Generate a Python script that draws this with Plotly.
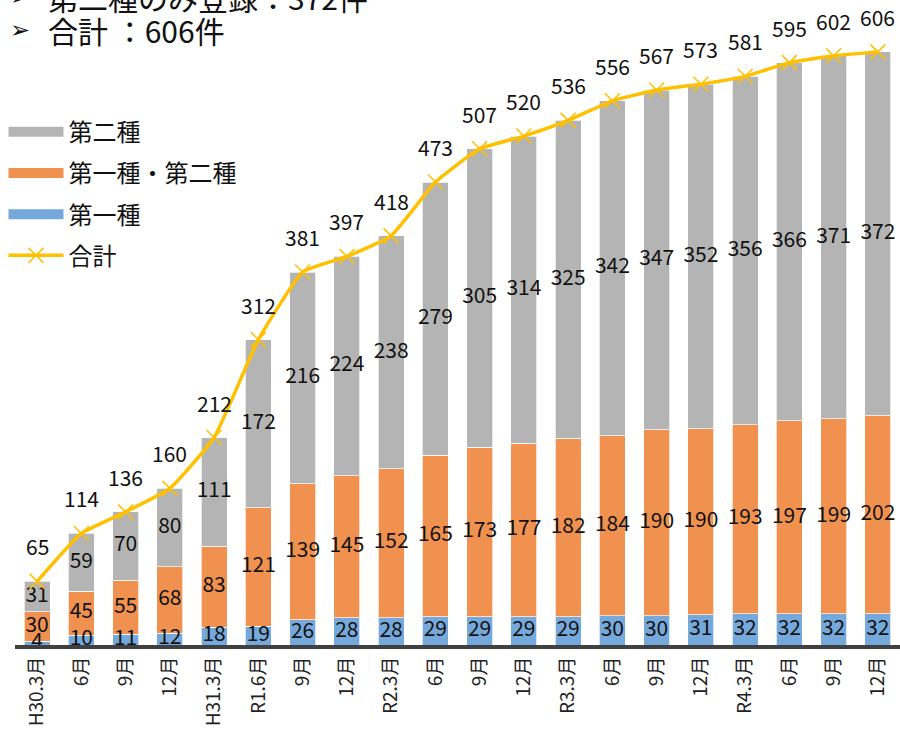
import plotly.graph_objects as go

categories = ["H30.3月", "6月", "9月", "12月", "H31.3月", "R1.6月", "9月", "12月", "R2.3月", "6月",
              "9月", "12月", "R3.3月", "6月", "9月", "12月", "R4.3月", "6月", "9月", "12月"]
type1 = [4, 10, 11, 12, 18, 19, 26, 28, 28, 29, 29, 29, 29, 30, 30, 31, 32, 32, 32, 32]
type12 = [30, 45, 55, 68, 83, 121, 139, 145, 152, 165, 173, 177, 182, 184, 190, 190, 193, 197, 199, 202]
type2 = [31, 59, 70, 80, 111, 172, 216, 224, 238, 279, 305, 314, 325, 342, 347, 352, 356, 366, 371, 372]
total = [65, 114, 136, 160, 212, 312, 381, 397, 418, 473, 507, 520, 536, 556, 567, 573, 581, 595, 602, 606]

x = list(range(len(categories)))
FONT = "Noto Sans CJK JP"
C_GRAY = "#B4B4B4"
C_ORANGE = "#F0914F"
C_BLUE = "#75A9DC"
C_LINE = "#FFC000"

fig = go.Figure()
series = [("第一種", type1, C_BLUE), ("第一種・第二種", type12, C_ORANGE), ("第二種", type2, C_GRAY)]
for name, vals, col in series:
    fig.add_trace(go.Bar(x=x, y=vals, name=name,
                         marker=dict(color=col, line=dict(color="rgba(255,255,255,0.7)", width=1)),
                         showlegend=False, hoverinfo="skip"))

# segment labels at segment midpoints
base = [0] * len(x)
for name, vals, col in series:
    mids = [b + v / 2 for b, v in zip(base, vals)]
    fig.add_trace(go.Scatter(x=x, y=mids, mode="text", text=[str(v) for v in vals],
                             textfont=dict(family=FONT, size=21, color="#111"),
                             showlegend=False, hoverinfo="skip"))
    base = [b + v for b, v in zip(base, vals)]

fig.add_trace(go.Scatter(x=x, y=total, mode="lines+markers", name="合計",
                         line=dict(color=C_LINE, width=3.5, shape="spline", smoothing=0.4),
                         marker=dict(symbol="x-thin", size=15, line=dict(color=C_LINE, width=1.5), color=C_LINE),
                         showlegend=False, cliponaxis=False))

# legend entries
for name, col, rank in [("第二種", C_GRAY, 1), ("第一種・第二種", C_ORANGE, 2), ("第一種", C_BLUE, 3)]:
    fig.add_trace(go.Scatter(x=[None], y=[None], mode="lines", name=name, legendrank=rank, legendgroup=name,
                             line=dict(color=col, width=14)))
fig.add_trace(go.Scatter(x=[None], y=[None], mode="lines+markers", name="合計", legendrank=4, legendgroup="合計",
                         line=dict(color=C_LINE, width=3.5),
                         marker=dict(symbol="x-thin", size=15, line=dict(color=C_LINE, width=1.5))))

annotations = []
for xi, t in zip(x, total):
    annotations.append(dict(x=xi, y=t, xref="x", yref="y", text=str(t), showarrow=False, yshift=35,
                            font=dict(family=FONT, size=21, color="#111")))

PLOT_BOTTOM = 645
header = [("➢", 8, -3, "第二種のみ登録：372件"), ("➢", 8, 30, "合計 ：606件")]
for arrow, ax, py, txt in header:
    annotations.append(dict(x=(ax - 15) / 885, y=(PLOT_BOTTOM - py) / PLOT_BOTTOM, xref="paper", yref="paper",
                            text=arrow, showarrow=False, xanchor="left", yanchor="middle",
                            font=dict(family="DejaVu Sans", size=24, color="#111")))
    annotations.append(dict(x=(46 - 15) / 885, y=(PLOT_BOTTOM - py) / PLOT_BOTTOM, xref="paper", yref="paper",
                            text=txt, showarrow=False, xanchor="left", yanchor="middle",
                            font=dict(family=FONT, size=30, color="#111")))

fig.update_layout(
    width=900, height=731,
    margin=dict(l=15, r=0, t=0, b=86),
    barmode="stack", bargap=0.41,
    plot_bgcolor="white", paper_bgcolor="white",
    font=dict(family=FONT, color="#111"),
    annotations=annotations,
    legend=dict(x=-0.013, y=0.83, xanchor="left", yanchor="top", traceorder="grouped", tracegroupgap=7,
                font=dict(family=FONT, size=24, color="#111"), itemwidth=55, bgcolor="rgba(0,0,0,0)"),
    xaxis=dict(tickmode="array", tickvals=x, ticktext=categories, tickangle=-90, range=[-0.5, len(x) - 0.5],
               tickfont=dict(family=FONT, size=19, color="#222"), showline=True, linecolor="#404040", linewidth=4,
               ticks="", showgrid=False, zeroline=False, automargin=False),
    yaxis=dict(range=[0, 659], visible=False, showgrid=False, zeroline=False),
)

fig.write_html("out.html", config={"displayModeBar": False},
               post_script="document.body.style.margin='0';document.body.style.overflow='hidden';")
